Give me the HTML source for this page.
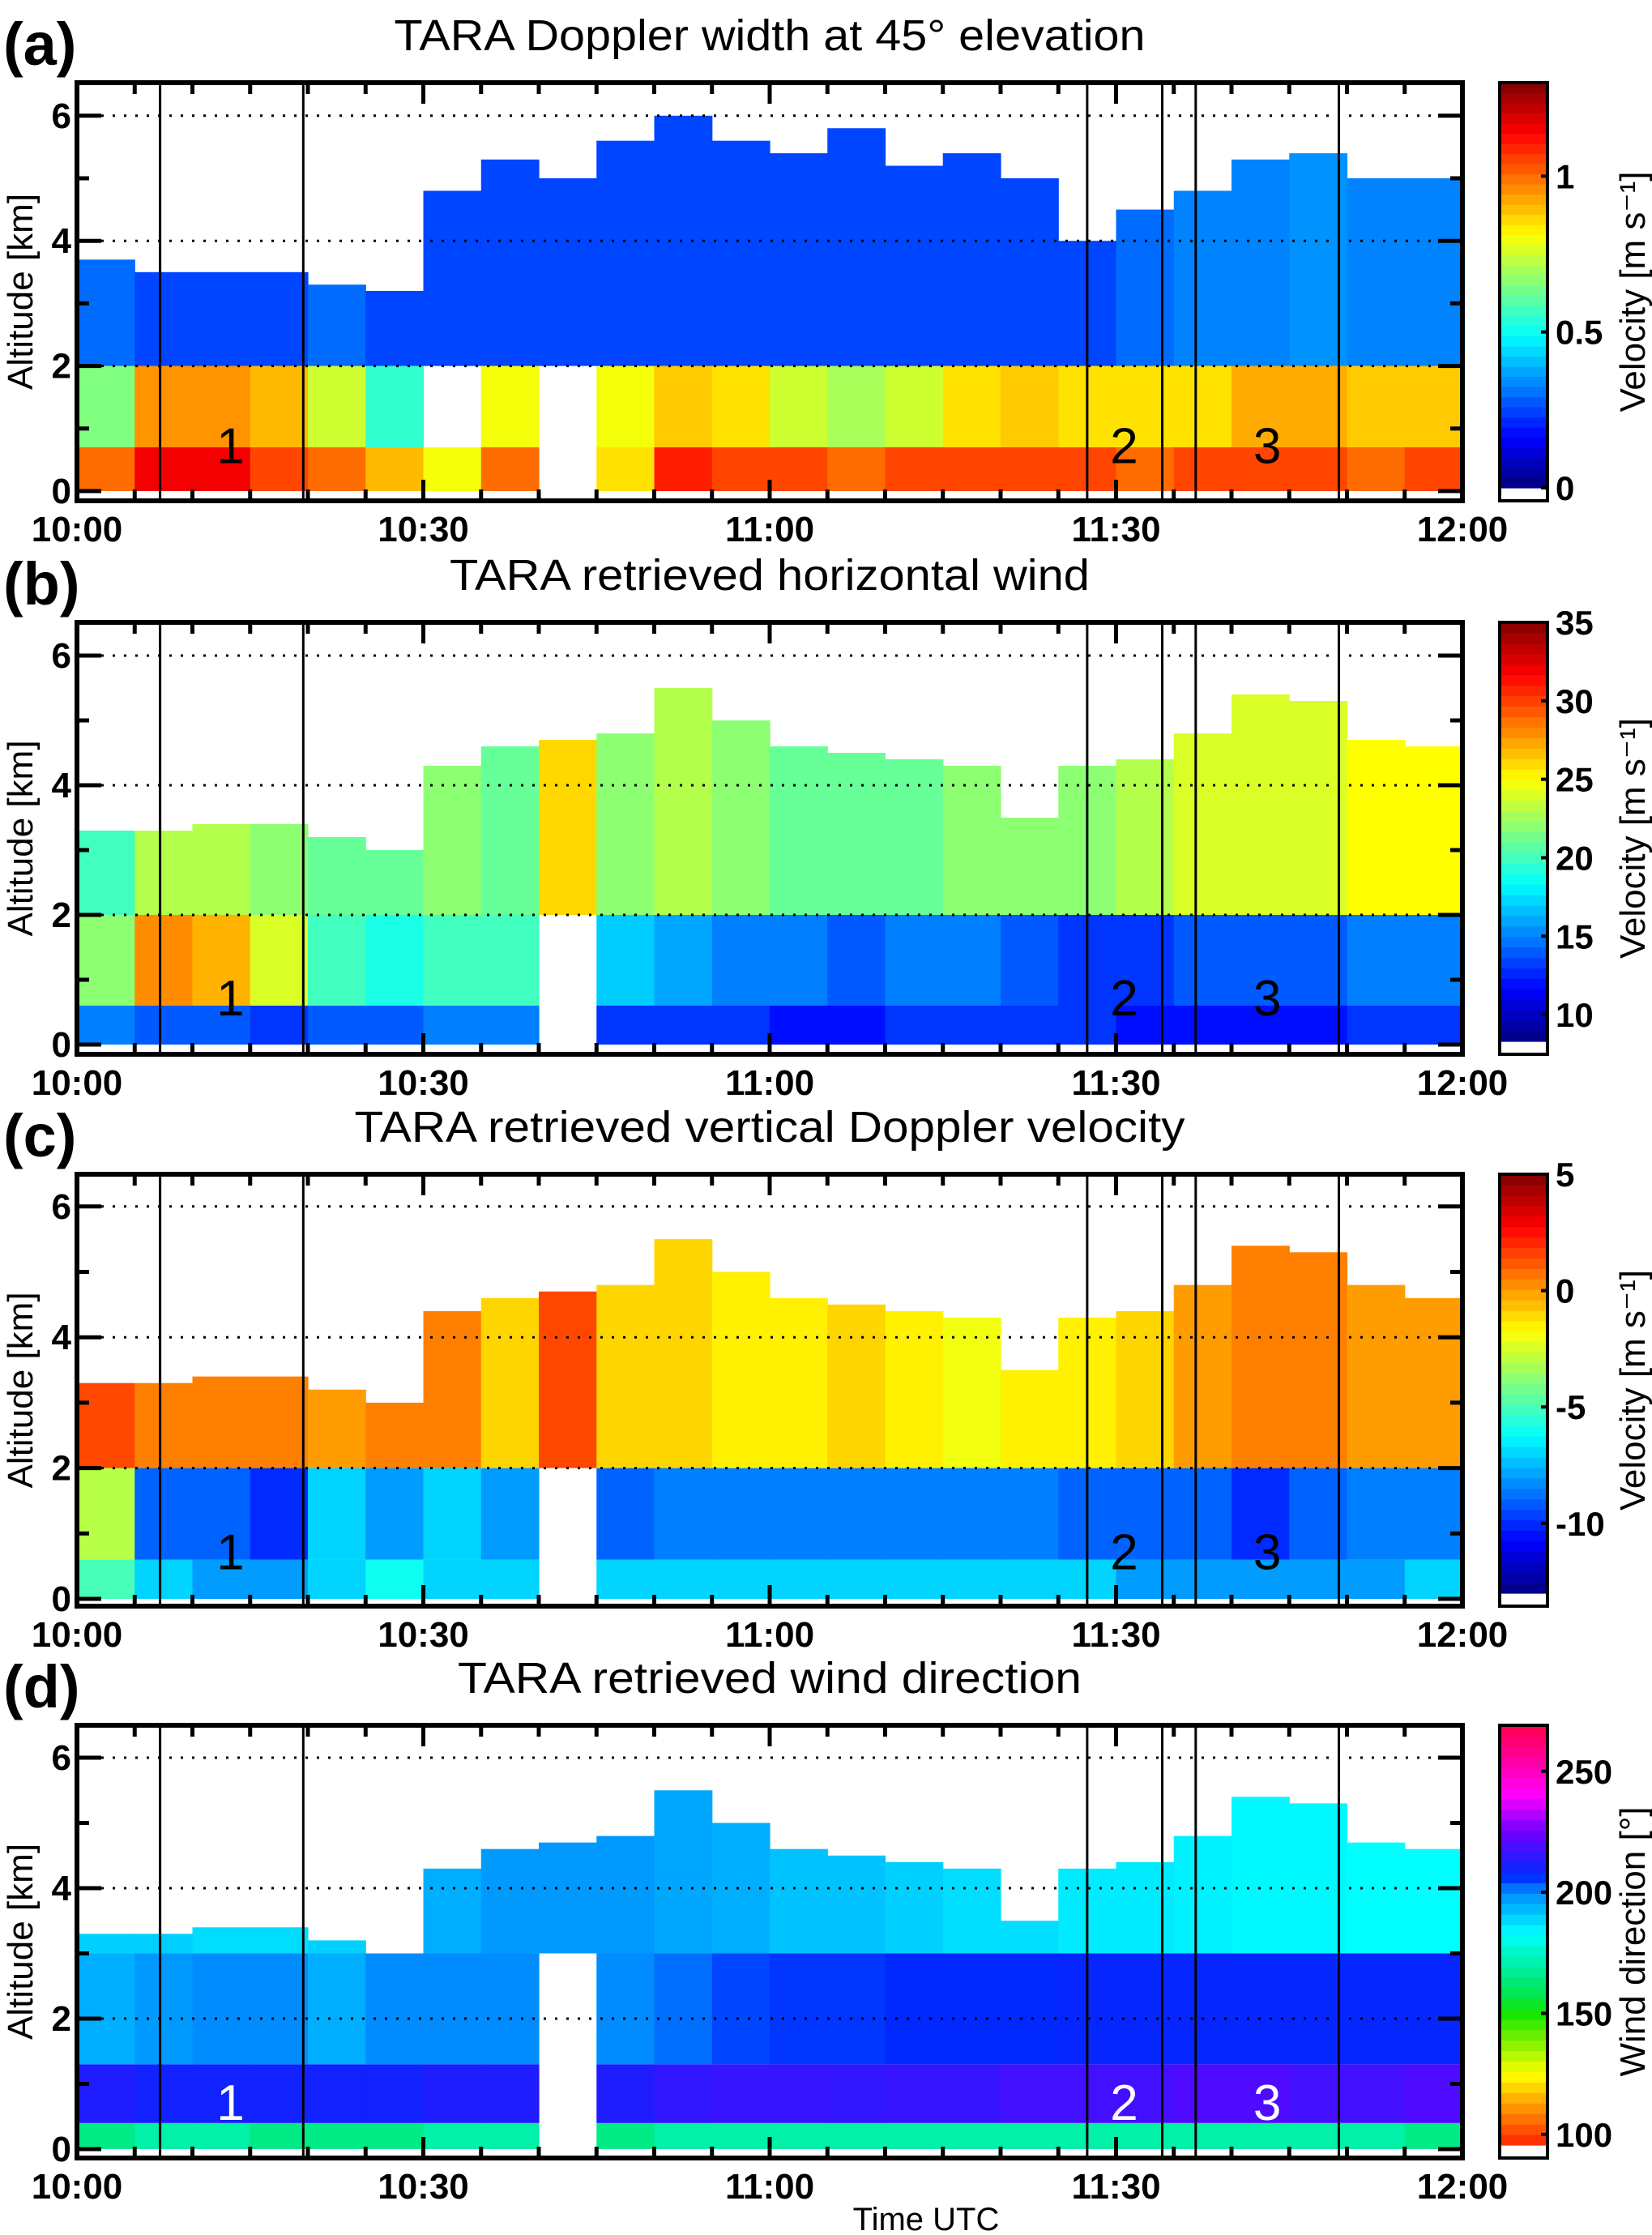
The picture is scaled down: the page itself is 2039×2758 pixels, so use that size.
<!DOCTYPE html>
<html><head><meta charset="utf-8"><style>
html,body{margin:0;padding:0;background:#fff;}
svg{display:block;}
text{font-family:"Liberation Sans",Arial,sans-serif;}
</style></head><body>
<svg id="fig" width="2039" height="2758" viewBox="0 0 2039 2758" xmlns="http://www.w3.org/2000/svg"></svg>
<script>
// ---------- data (5-min columns, 10:00 -> 12:00) ----------
const xTickLabels = ["10:00","10:30","11:00","11:30","12:00"];
const yTickLabels = ["0","2","4","6"];
const eventTimes = [7.2, 19.6, 87.5, 94, 96.9, 109.3];
const eventLabelTimes = [13.3, 90.7, 103.1];
const eventLabels = ["1","2","3"];

const aBreaks = [0, 0.7, 2.0];
const aTop = [3.7,3.5,3.5,3.5,3.3,3.2,4.8,5.3,5.0,5.6,6.0,5.6,5.4,5.8,5.2,5.4,5.0,4.0,4.5,4.8,5.3,5.4,5.0,5.0];
const aLow = [1.0,1.15,1.15,1.05,1.0,0.9,0.8,1.0,null,0.85,1.1,1.05,1.05,1.0,1.05,1.05,1.05,1.05,1.0,1.05,1.05,1.05,1.0,1.05];
const aMid = [0.65,0.95,0.95,0.9,0.75,0.55,null,0.8,null,0.8,0.88,0.85,0.75,0.7,0.75,0.85,0.88,0.85,0.85,0.85,0.92,0.92,0.88,0.88];
const aUp = [0.3,0.25,0.25,0.25,0.3,0.25,0.25,0.25,0.25,0.25,0.25,0.25,0.25,0.25,0.25,0.25,0.25,0.25,0.3,0.33,0.33,0.35,0.33,0.33];
const aBarTicks = ["0","0.5","1"];

const bBreaks = [0, 0.6, 2.0];
const bTop = [3.3,3.3,3.4,3.4,3.2,3.0,4.3,4.6,4.7,4.8,5.5,5.0,4.6,4.5,4.4,4.3,3.5,4.3,4.4,4.8,5.4,5.3,4.7,4.6];
const bLow = [15,14,14,13,14,14,15,15,null,13,13,13,12,12,13,13,13,13,12,12,12,12,13,13];
const bMid = [22,28,27,24,20,19,20,20,null,17,16,15,15,14,15,15,14,13,13,14,14,14,15,15];
const bUp = [20,23,23,22,21,21,22,21,26,22,23,22,21,21,21,22,22,22,23,24,24,24,25,25];
const bBarTicks = ["10","15","20","25","30","35"];

const cBreaks = [0, 0.6, 2.0];
const cTop = [3.3,3.3,3.4,3.4,3.2,3.0,4.4,4.6,4.7,4.8,5.5,5.0,4.6,4.5,4.4,4.3,3.5,4.3,4.4,4.8,5.4,5.3,4.8,4.6];
const cLow = [-5,-7,-8,-8,-7,-6,-7,-7,null,-7,-7,-7,-7,-7,-7,-7,-7,-7,-8,-8,-8,-8,-8,-7];
const cMid = [-3,-9,-9,-10,-7,-8,-7,-8,null,-9,-8.5,-8.5,-8.5,-8.5,-8.5,-8.5,-8.5,-9,-9,-9,-10,-9,-8.5,-8.5];
const cUp = [1.5,0.5,0.5,0.5,0,0.5,0.5,-1,1.5,-1,-1,-1.5,-1.5,-1,-1.5,-2,-1.5,-1.5,-1,0,0.5,0.5,0,0];
const cBarTicks = ["-10","-5","0","5"];

const dBreaks = [0, 0.4, 1.3, 3.0];
const dTop = [3.3,3.3,3.4,3.4,3.2,3.0,4.3,4.6,4.7,4.8,5.5,5.0,4.6,4.5,4.4,4.3,3.5,4.3,4.4,4.8,5.4,5.3,4.7,4.6];
const dL1 = [165,170,170,165,165,165,170,170,null,165,170,170,170,170,170,170,170,170,170,170,170,170,170,165];
const dL2 = [212,210,210,210,210,210,212,212,null,212,215,216,216,215,216,216,218,218,218,220,220,218,218,220];
const dL3 = [195,198,200,200,195,200,200,200,null,200,202,205,206,206,207,207,207,208,208,208,208,208,208,208];
const dL4 = [190,190,188,188,190,190,195,198,198,198,196,195,192,192,190,188,188,186,186,185,184,184,183,183];
const dBarTicks = ["100","150","200","250"];

// ---------- layout ----------
const NS="http://www.w3.org/2000/svg";
const svg=document.getElementById('fig');
const X0=95, X1=1805, CB0=1851, CB1=1910;
function mk(tag,attrs,parent){const e=document.createElementNS(NS,tag);for(const k in attrs)e.setAttribute(k,attrs[k]);(parent||svg).appendChild(e);return e;}
function xs(min){return X0+(X1-X0)*min/120;}
function jet(t){t=Math.max(0,Math.min(1,t));const c=v=>Math.round(255*Math.max(0,Math.min(1,v)));return `rgb(${c(1.5-Math.abs(4*t-3))},${c(1.5-Math.abs(4*t-2))},${c(1.5-Math.abs(4*t-1))})`;}
const dirStops=[[95,[255,30,0]],[110,[255,140,0]],[125,[255,255,0]],[150,[20,230,0]],[160,[0,230,100]],[183,[0,255,255]],[200,[0,140,255]],[207,[0,40,255]],[225,[110,0,255]],[240,[255,0,255]],[255,[255,0,160]],[270,[255,0,70]]];
function dirCol(v){for(let i=0;i<dirStops.length-1;i++){const[a,ca]=dirStops[i],[b,cb]=dirStops[i+1];if(v<=b){const t=Math.max(0,(v-a)/(b-a));return `rgb(${ca.map((c,k)=>Math.round(c+(cb[k]-c)*t)).join(',')})`;}}return 'rgb(255,0,70)';}

const panels=[
 {id:'a',top:102,bot:618,y0:606,km:77.2,title:'TARA Doppler width at 45° elevation',tl:927,breaks:aBreaks,tops:aTop,layers:[aLow,aMid,aUp],vmin:0,vmax:1.3,ticks:aBarTicks,cmap:'jet',unit:'Velocity [m s⁻¹]',numCol:'#000'},
 {id:'b',top:768,bot:1301,y0:1289,km:80,title:'TARA retrieved horizontal wind',tl:790,breaks:bBreaks,tops:bTop,layers:[bLow,bMid,bUp],vmin:8.3,vmax:35,ticks:bBarTicks,cmap:'jet',unit:'Velocity [m s⁻¹]',numCol:'#000'},
 {id:'c',top:1449,bot:1982,y0:1973,km:80.7,title:'TARA retrieved vertical Doppler velocity',tl:1025,breaks:cBreaks,tops:cTop,layers:[cLow,cMid,cUp],vmin:-13,vmax:5,ticks:cBarTicks,cmap:'jet',unit:'Velocity [m s⁻¹]',numCol:'#000'},
 {id:'d',top:2129,bot:2663,y0:2652,km:80.5,title:'TARA retrieved wind direction',tl:770,breaks:dBreaks,tops:dTop,layers:[dL1,dL2,dL3,dL4],vmin:95.6,vmax:269,ticks:dBarTicks,cmap:'dir',unit:'Wind direction [°]',numCol:'#fff'}
];

panels.forEach(p=>{
 const g=mk('g',{});
 
 
 const col=v=>p.cmap==='jet'?jet((v-p.vmin)/(p.vmax-p.vmin)):dirCol(v);
 const ys=km=>p.y0-km*p.km;
 const L=mk('text',{x:4,y:p.top-22,'font-size':74,'font-weight':'bold'},g);L.textContent='('+p.id+')';
 
 
 const T=mk('text',{x:950,y:p.top-40,'font-size':54,'text-anchor':'middle',textLength:p.tl,lengthAdjust:'spacingAndGlyphs'},g);T.textContent=p.title;
 
 
 const hm=mk('g',{},g);
 
 
 const n=p.tops.length;
 for(let i=0;i<n;i++){
  for(let L2=0;L2<p.layers.length;L2++){
   const v=p.layers[L2][i]; if(v===null)continue;
   const lo=p.breaks[L2], hi=Math.min(L2+1<p.breaks.length?p.breaks[L2+1]:99,p.tops[i]);
   if(hi<=lo)continue;
   const x=xs(i*120/n), w=xs((i+1)*120/n)-x;
   const r=mk('rect',{x:x,y:ys(hi),width:w+0.6,height:ys(lo)-ys(hi),fill:col(v)},hm);
   
   
  }
 }
 [2,4,6].forEach(k=>{const l=mk('line',{x1:X0+30,x2:X1-30,y1:ys(k),y2:ys(k),stroke:'#000','stroke-width':3,'stroke-dasharray':'3 11'},g);
  });
 eventTimes.forEach(t=>{const l=mk('line',{x1:xs(t),x2:xs(t),y1:p.top,y2:p.bot,stroke:'#000','stroke-width':3},g);
  });
 eventLabels.forEach((s,i)=>{const tx=mk('text',{x:xs(eventLabelTimes[i]),y:ys(0.45),'font-size':62,'text-anchor':'middle',fill:p.numCol},g);tx.textContent=s;
  });
 for(let m=0;m<=120;m+=5){const big=m%30===0;const len=big?26:14;
  mk('line',{x1:xs(m),x2:xs(m),y1:p.top,y2:p.top+len,stroke:'#000','stroke-width':5},g);
  mk('line',{x1:xs(m),x2:xs(m),y1:p.bot,y2:p.bot-len,stroke:'#000','stroke-width':5},g);}
 for(let k=0;k<=6;k++){const len=k%2===0?30:15;
  mk('line',{x1:X0,x2:X0+len,y1:ys(k),y2:ys(k),stroke:'#000','stroke-width':5},g);
  mk('line',{x1:X1,x2:X1-len,y1:ys(k),y2:ys(k),stroke:'#000','stroke-width':5},g);}
 const box=mk('rect',{x:X0,y:p.top,width:X1-X0,height:p.bot-p.top,fill:'none',stroke:'#000','stroke-width':6},g);
 
 yTickLabels.forEach((s,i)=>{const t=mk('text',{x:88,y:ys(i*2)+15,'font-size':44,'font-weight':'bold','text-anchor':'end'},g);t.textContent=s;
  });
 xTickLabels.forEach((s,i)=>{const t=mk('text',{x:xs(i*30),y:p.bot+50,'font-size':44,'font-weight':'bold','text-anchor':'middle'},g);t.textContent=s;
  });
 const ya=mk('text',{x:0,y:0,'font-size':44,'text-anchor':'middle',transform:`translate(40,${(p.top+p.bot)/2}) rotate(-90)`},g);ya.textContent='Altitude [km]';
 
 const cb=mk('g',{},g);
 
 
 const cTopY=p.top, cBotY=p.bot-16, N=40;
 for(let i=0;i<N;i++){const v=p.vmin+(p.vmax-p.vmin)*(i+0.5)/N;const y1=cBotY-(cBotY-cTopY)*(i+1)/N;
  const r=mk('rect',{x:CB0,y:y1,width:CB1-CB0,height:(cBotY-cTopY)/N+0.6,fill:col(v)},cb);
  }
 mk('rect',{x:CB0,y:cTopY,width:CB1-CB0,height:p.bot-cTopY,fill:'none',stroke:'#000','stroke-width':4},cb);
 p.ticks.forEach(s=>{const v=parseFloat(s);const y=cBotY-(cBotY-cTopY)*(v-p.vmin)/(p.vmax-p.vmin);
  mk('line',{x1:CB1-8,x2:CB1,y1:y,y2:y,stroke:'#000','stroke-width':4},cb);
  const t=mk('text',{x:1920,y:y+15,'font-size':42,'font-weight':'bold'},cb);t.textContent=s;
  });
 const ul=mk('text',{x:0,y:0,'font-size':44,'text-anchor':'middle',transform:`translate(2030,${(p.top+p.bot)/2}) rotate(-90)`},cb);ul.textContent=p.unit;
 
});
const xt=mk('text',{x:1143,y:2752,'font-size':40,'text-anchor':'middle'});xt.textContent='Time UTC';


</script>
</body></html>
